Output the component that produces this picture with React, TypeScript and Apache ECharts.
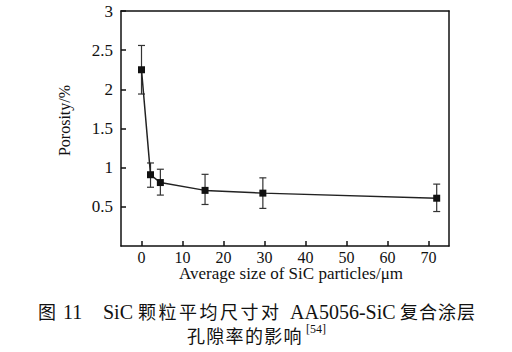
import React, { useEffect, useRef } from "react";
import * as echarts from "echarts";

// Data
const sizes = [0, 2.2, 4.6, 15.5, 29.6, 72];
const porosity = [2.25, 0.91, 0.81, 0.71, 0.675, 0.61];
const errUpper = [2.56, 1.06, 0.98, 0.915, 0.87, 0.79];
const errLower = [1.94, 0.75, 0.65, 0.53, 0.48, 0.44];
const xTickValues = [0, 10, 20, 30, 40, 50, 60, 70];

const xAxisName = "Average size of SiC particles/\u03bcm";
const yAxisName = "Porosity/%";

const SERIF = '"Liberation Serif", "Times New Roman", serif';
const CJK = '"Noto Sans CJK SC", sans-serif';

function cjkRun(str: string, x0: number, pitch: number, y: number, size: number) {
  return Array.from(str).map((ch, i) => ({
    type: "text",
    x: x0 + i * pitch,
    y,
    style: {
      text: ch,
      fontFamily: CJK,
      fontSize: size,
      fill: "#111",
      verticalAlign: "middle",
      align: "left",
    },
  }));
}

function latin(str: string, x: number, y: number, size: number) {
  return {
    type: "text",
    x,
    y,
    style: {
      text: str,
      fontFamily: SERIF,
      fontSize: size,
      fill: "#111",
      verticalAlign: "middle",
      align: "left",
    },
  };
}

export default function App() {
  const ref = useRef<HTMLDivElement>(null);

  useEffect(() => {
    if (!ref.current) return;
    const chart = echarts.init(ref.current, undefined, { renderer: "svg" });

    const line1Y = 311;
    const line2Y = 335;
    const axisStyle = { color: "#111", width: 1.5 };

    const option: any = {
      animation: false,
      backgroundColor: "#fff",
      grid: {
        left: 121,
        top: 11,
        right: 63,
        bottom: 106,
        containLabel: false,
      },
      xAxis: [
        {
          type: "value",
          min: -5,
          max: 75,
          name: xAxisName,
          nameLocation: "middle",
          nameGap: 19,
          nameMoveOverlap: false,
          nameTextStyle: {
            fontFamily: SERIF,
            fontSize: 17,
            color: "#111",
            padding: [0, 0, 0, 12],
          },
          axisLine: { show: true, onZero: false, lineStyle: axisStyle },
          axisTick: {
            show: true,
            inside: true,
            length: 5,
            customValues: xTickValues,
            lineStyle: axisStyle,
          },
          axisLabel: {
            customValues: xTickValues,
            fontFamily: SERIF,
            fontSize: 16,
            color: "#111",
            margin: 3,
          },
          splitLine: { show: false },
        },
        {
          type: "value",
          position: "top",
          min: -5,
          max: 75,
          axisLine: { show: true, onZero: false, lineStyle: axisStyle },
          axisTick: { show: false },
          axisLabel: { show: false },
          splitLine: { show: false },
        },
      ],
      yAxis: [
        {
          type: "value",
          min: 0,
          max: 3,
          interval: 0.5,
          name: yAxisName,
          nameLocation: "middle",
          nameGap: 49,
          nameRotate: 90,
          nameMoveOverlap: false,
          nameTextStyle: {
            fontFamily: SERIF,
            fontSize: 16,
            color: "#111",
            padding: [0, 0, 0, 16],
          },
          axisLine: { show: true, onZero: false, lineStyle: axisStyle },
          axisTick: { show: true, inside: true, length: 5, lineStyle: axisStyle },
          axisLabel: {
            showMinLabel: false,
            fontFamily: SERIF,
            fontSize: 17,
            color: "#111",
            margin: 8,
          },
          splitLine: { show: false },
        },
        {
          type: "value",
          position: "right",
          min: 0,
          max: 3,
          interval: 0.5,
          axisLine: { show: true, onZero: false, lineStyle: axisStyle },
          axisTick: { show: false },
          axisLabel: { show: false },
          splitLine: { show: false },
        },
      ],
      series: [
        {
          type: "custom",
          name: "error",
          data: sizes.map((s, i) => [s, errUpper[i], errLower[i]]),
          encode: { x: 0, y: [1, 2] },
          z: 1,
          renderItem: (params: any, api: any) => {
            const x = api.value(0);
            const top = api.coord([x, api.value(1)]);
            const bot = api.coord([x, api.value(2)]);
            const w = 3.5;
            const st = { stroke: "#333", lineWidth: 1.2 };
            return {
              type: "group",
              children: [
                { type: "line", shape: { x1: top[0], y1: top[1], x2: bot[0], y2: bot[1] }, style: st },
                { type: "line", shape: { x1: top[0] - w, y1: top[1], x2: top[0] + w, y2: top[1] }, style: st },
                { type: "line", shape: { x1: bot[0] - w, y1: bot[1], x2: bot[0] + w, y2: bot[1] }, style: st },
              ],
            };
          },
        },
        {
          type: "line",
          name: "Porosity",
          data: sizes.map((s, i) => [s, porosity[i]]),
          symbol: "rect",
          symbolSize: 7,
          showSymbol: true,
          z: 2,
          lineStyle: { color: "#222", width: 1.5 },
          itemStyle: { color: "#111" },
        },
      ],
      graphic: [
        ...cjkRun("图", 38, 19, line1Y, 18),
        latin("11", 63, line1Y + 1, 20),
        latin("SiC", 103, line1Y + 1, 20),
        ...cjkRun("颗粒平均尺寸对", 138, 20.5, line1Y, 18),
        latin("AA5056-SiC", 290, line1Y + 1, 20),
        ...cjkRun("复合涂层", 400, 19, line1Y, 18),
        ...cjkRun("孔隙率的影响", 187, 19.3, line2Y, 18),
        latin("[54]", 306, 329, 12),
      ],
    };

    chart.setOption(option);
    return () => chart.dispose();
  }, []);

  return (
    <div
      ref={ref}
      style={{ position: "fixed", left: 0, top: 0, width: 512, height: 352 }}
    />
  );
}
